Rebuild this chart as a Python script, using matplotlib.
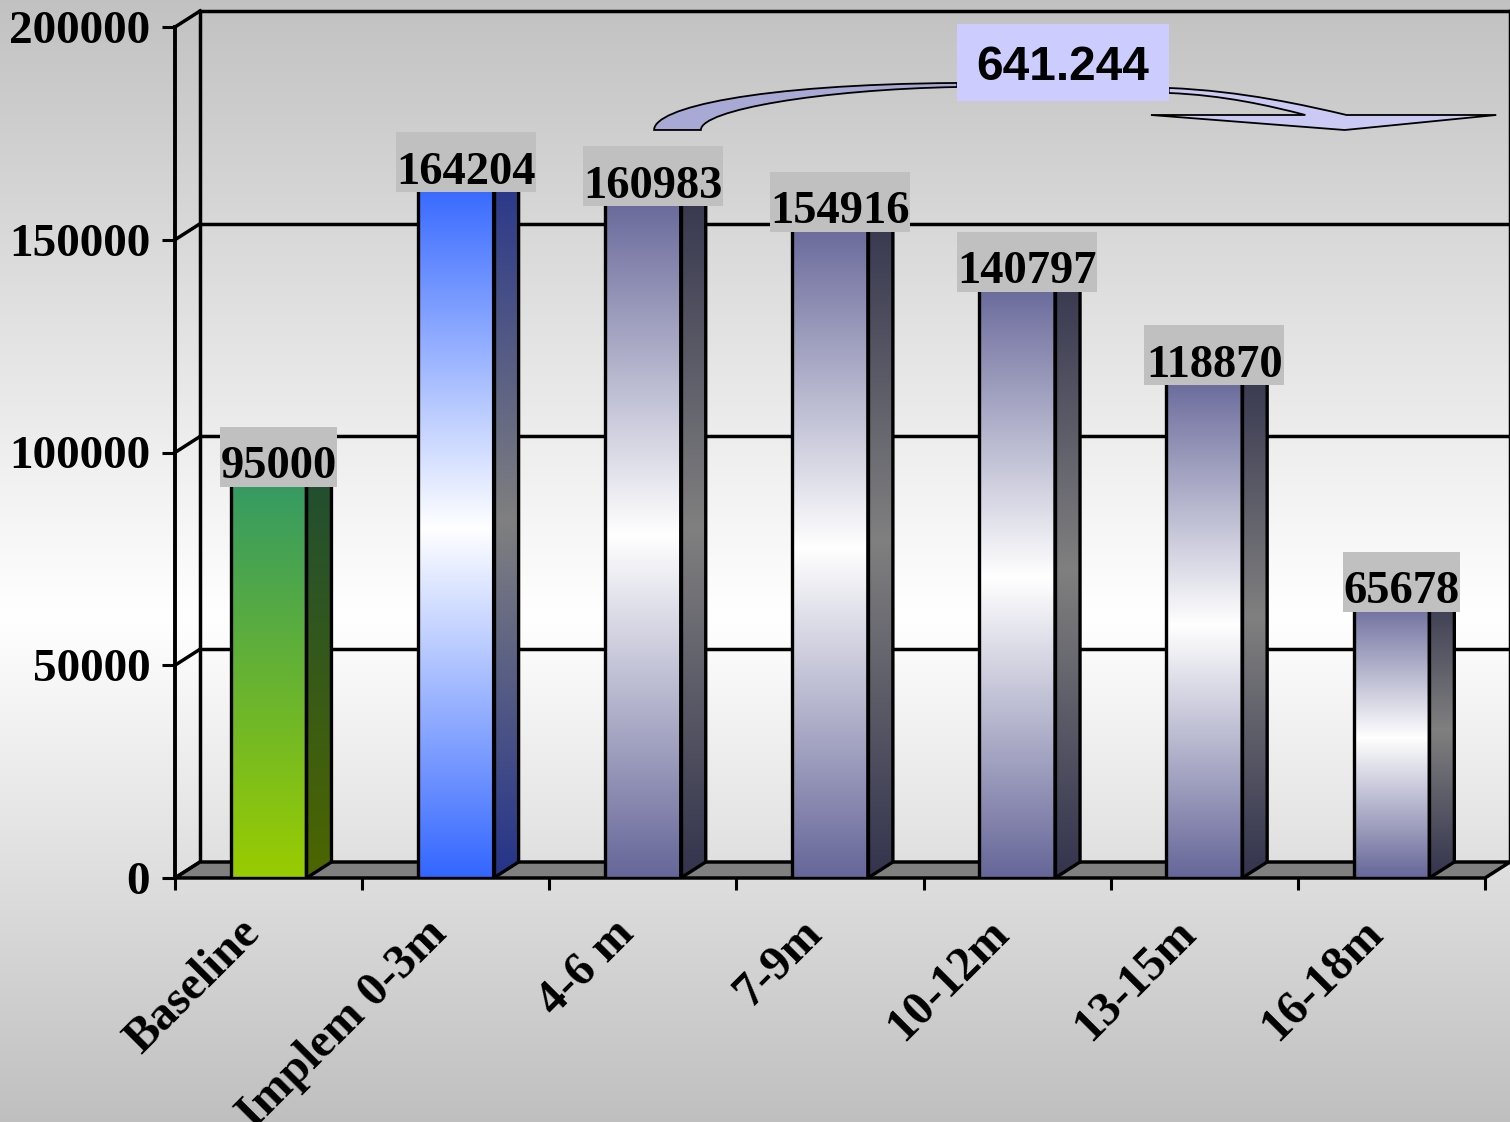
import numpy as np
import matplotlib.pyplot as plt
import matplotlib.transforms as mtransforms
from matplotlib.patches import Polygon, Rectangle, PathPatch
from matplotlib.path import Path
from matplotlib.colors import to_rgb

categories = ['Baseline', 'Implem 0-3m', '4-6 m', '7-9m', '10-12m', '13-15m', '16-18m']
values = [95000, 164204, 160983, 154916, 140797, 118870, 65678]
y_ticks = [0, 50000, 100000, 150000, 200000]
total_label = '641.244'

plt.rcParams['font.family'] = ['Liberation Serif', 'DejaVu Serif']
plt.rcParams['font.weight'] = 'bold'

W, H = 1510, 1122
fig = plt.figure(figsize=(W / 100, H / 100), dpi=100)

# background: grey -> white -> grey vertical gradient
bg = fig.add_axes([0, 0, 1, 1], zorder=-10)
rows = np.linspace(0, 1, 600)
g = np.interp(rows, [0, 0.55, 1], [0.76, 1.0, 0.75])
bg.imshow(np.repeat(g[:, None, None], 3, axis=2), aspect='auto', extent=[0, 1, 0, 1],
          interpolation='bicubic')
bg.set_axis_off()

ax = fig.add_axes([175 / W, (H - 878) / H, 1310 / W, 851 / H])
ax.patch.set_alpha(0)
for s in ax.spines.values():
    s.set_visible(False)

n = len(categories)
x_lo, x_hi = -0.5, n - 0.5
y_top = y_ticks[-1]
dx = 25 / 1310 * n          # depth offset (x)
dy = 16 / 851 * y_top       # depth offset (y)
lw = 2.5

# back wall grid lines and side wall
for yt in y_ticks[1:]:
    ax.plot([x_lo + dx, x_hi + dx], [yt + dy, yt + dy], color='black', lw=lw, clip_on=False, zorder=1)
for yt in y_ticks:
    ax.plot([x_lo, x_lo + dx], [yt, yt + dy], color='black', lw=lw, clip_on=False, zorder=1)
ax.plot([x_lo + dx] * 2, [dy, y_top + dy], color='black', lw=lw, clip_on=False, zorder=1)
ax.plot([x_hi + dx] * 2, [dy, y_top + dy], color='black', lw=lw, clip_on=False, zorder=1)
ax.plot([x_lo, x_lo], [0, y_top], color='black', lw=lw + 0.3, clip_on=False, zorder=5)

# floor
floor = Polygon([(x_lo, 0), (x_hi, 0), (x_hi + dx, dy), (x_lo + dx, dy)], closed=True,
                fc='#808080', ec='black', lw=lw, clip_on=False, zorder=2)
ax.add_patch(floor)


def mirror_grad(c_end, c_mid, k=256):
    t = np.linspace(0, 1, k)
    w = 1 - np.abs(2 * t - 1)
    a, b = np.array(to_rgb(c_end)), np.array(to_rgb(c_mid))
    return (1 - w)[:, None] * a + w[:, None] * b


def linear_grad(c_bottom, c_top, k=256):
    t = np.linspace(0, 1, k)[:, None]
    return (1 - t) * np.array(to_rgb(c_bottom)) + t * np.array(to_rgb(c_top))


bw = 0.405
for i, v in enumerate(values):
    if i == 0:
        front = linear_grad('#99cc00', '#339966')
        side = linear_grad('#4d6600', '#1f4d33')
        top_c = '#5fb07a'
    elif i == 1:
        front = mirror_grad('#3366ff', 'white')
        side = mirror_grad('#25338a', '#808080')
        top_c = '#8099ff'
    else:
        front = mirror_grad('#666699', 'white')
        side = mirror_grad('#33334d', '#808080')
        top_c = '#9999bb'
    x0, x1 = i - bw / 2, i + bw / 2
    ax.imshow(front[:, None, :], extent=[x0, x1, 0, v], origin='lower', aspect='auto',
              interpolation='bicubic', zorder=3)
    ax.add_patch(Rectangle((x0, 0), bw, v, fc='none', ec='black', lw=2.4, zorder=3.5))
    side_pts = [(x1, 0), (x1 + dx, dy), (x1 + dx, v + dy), (x1, v)]
    clip = Polygon(side_pts, closed=True, transform=ax.transData)
    im = ax.imshow(side[:, None, :], extent=[x1, x1 + dx, 0, v + dy], origin='lower',
                   aspect='auto', interpolation='bicubic', zorder=3)
    im.set_clip_path(clip)
    ax.add_patch(Polygon(side_pts, closed=True, fc='none', ec='black', lw=2.4, zorder=3.5))
    ax.add_patch(Polygon([(x0, v), (x1, v), (x1 + dx, v + dy), (x0 + dx, v + dy)], closed=True,
                         fc=top_c, ec='black', lw=2.4, zorder=3.5))

    # value label box anchored at bar top (sizes in inches)
    lab = f'{v}'
    tr = fig.dpi_scale_trans + mtransforms.ScaledTranslation(i, v, ax.transData)
    bw_in = len(lab) * 0.225 + 0.05
    ax.add_patch(Rectangle((0.10 - bw_in / 2, -0.13), bw_in, 0.60, transform=tr,
                           fc='#c0c0c0', ec='none', zorder=9, clip_on=False))
    ax.text(0.10, -0.045, lab, transform=tr, ha='center', va='baseline',
            fontsize=33.5, fontweight='bold', zorder=10, clip_on=False)

ax.set_xlim(x_lo, x_hi)
ax.set_ylim(0, y_top)

# axis ticks
ax.set_yticks(y_ticks)
ax.set_yticklabels([str(t) for t in y_ticks])
ax.tick_params(axis='y', length=9.4, width=2.2, direction='out', pad=8.5, labelsize=34)
ax.set_xticks(np.arange(x_lo, x_hi + 0.5, 1))
ax.set_xticklabels([])
ax.tick_params(axis='x', length=8.6, width=2.2, direction='out')

for i, c in enumerate(categories):
    ax.annotate(c, (i, 0), xytext=(-11, -35), textcoords='offset points', rotation=45,
                rotation_mode='anchor', ha='right', va='center', fontsize=34.5,
                fontweight='bold', annotation_clip=False)

# curved total arrow
P = Path
left_arrow = Path([(2.06, 175800), (2.06, 181000), (2.6, 186500), (3.68, 186850),
                   (3.68, 185900), (2.95, 185300), (2.31, 180500), (2.31, 175800),
                   (2.06, 175800)],
                  [P.MOVETO, P.CURVE4, P.CURVE4, P.CURVE4, P.LINETO, P.CURVE4, P.CURVE4,
                   P.CURVE4, P.CLOSEPOLY])
right_arrow = Path([(4.81, 185670), (5.2, 185000), (5.55, 181500), (5.76, 179320),
                    (6.56, 179320), (5.75, 175790), (4.715, 179320), (5.54, 179320),
                    (5.35, 181500), (5.1, 184000), (4.81, 184490), (4.81, 185670)],
                   [P.MOVETO, P.CURVE4, P.CURVE4, P.CURVE4, P.LINETO, P.LINETO, P.LINETO,
                    P.LINETO, P.CURVE4, P.CURVE4, P.CURVE4, P.CLOSEPOLY])
ax.add_patch(PathPatch(left_arrow, fc='#a9a9d6', ec='black', lw=1.3, zorder=6, clip_on=False))
ax.add_patch(PathPatch(right_arrow, fc='#cacaf5', ec='black', lw=1.3, zorder=6, clip_on=False))
ax.add_patch(Rectangle((3.679, 182611), 1.133, 18097, fc='#ccccff', ec='none',
                       zorder=7, clip_on=False))
ax.text(4.245, 187546, total_label, ha='center', va='baseline', fontsize=34.5,
        fontweight='bold', family=['Liberation Sans', 'DejaVu Sans'], zorder=8)

fig.savefig('out.png', dpi=100)
